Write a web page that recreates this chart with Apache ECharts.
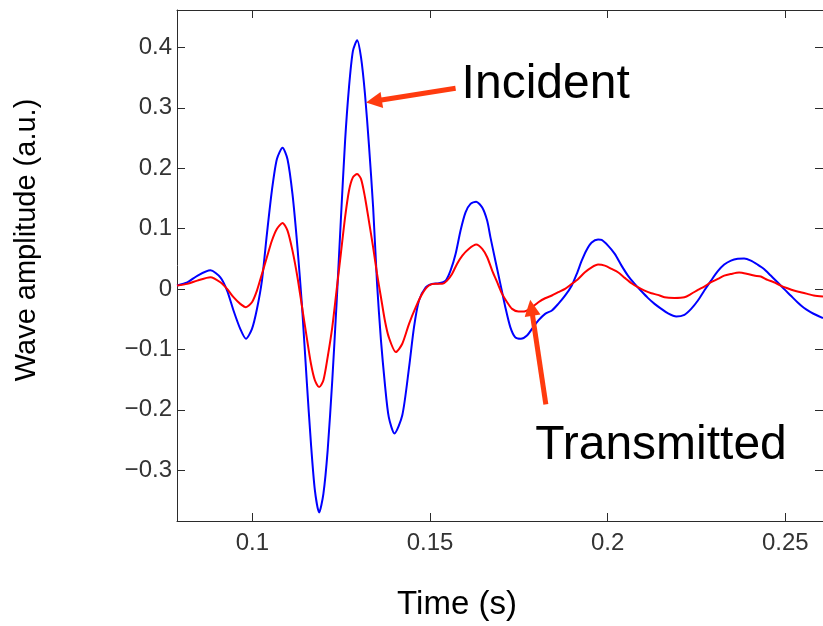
<!DOCTYPE html>
<html>
<head>
<meta charset="utf-8">
<title>Wave amplitude</title>
<script src="https://cdn.jsdelivr.net/npm/echarts@6/dist/echarts.min.js"></script>
<style>
  html, body { margin: 0; padding: 0; background: #fff; }
  #chart { width: 823px; height: 626px; }
</style>
</head>
<body>
<div id="chart"></div>
<script>
// Incident wave (blue): sample times (s) and amplitudes (a.u.)
const incidentTime = [
  0.0788, 0.0817, 0.0845, 0.0882, 0.0910, 0.0929, 0.0947, 0.0966, 0.0982, 0.0999,
  0.1013, 0.1027, 0.1041, 0.1055, 0.1069, 0.1085, 0.1099, 0.1113, 0.1127, 0.1140,
  0.1153, 0.1165, 0.1176, 0.1188, 0.1200, 0.1212, 0.1225, 0.1237, 0.1249, 0.1261,
  0.1272, 0.1283, 0.1295, 0.1306, 0.1317, 0.1328, 0.1340, 0.1351, 0.1362, 0.1373,
  0.1384, 0.1400, 0.1422, 0.1441, 0.1455, 0.1469, 0.1488, 0.1506, 0.1525, 0.1544,
  0.1558, 0.1572, 0.1586, 0.1600, 0.1614, 0.1630, 0.1647, 0.1661, 0.1670, 0.1684,
  0.1698, 0.1712, 0.1726, 0.1740, 0.1756, 0.1773, 0.1787, 0.1805, 0.1824, 0.1843,
  0.1861, 0.1880, 0.1899, 0.1913, 0.1927, 0.1940, 0.1955, 0.1973, 0.1983, 0.2001,
  0.2020, 0.2039, 0.2057, 0.2076, 0.2095, 0.2113, 0.2132, 0.2151, 0.2169, 0.2193,
  0.2216, 0.2235, 0.2254, 0.2272, 0.2291, 0.2310, 0.2328, 0.2347, 0.2366, 0.2384,
  0.2403, 0.2422, 0.2440, 0.2459, 0.2478, 0.2496, 0.2515, 0.2534, 0.2552, 0.2571,
  0.2590, 0.2606
];
const incidentAmp = [
  0.006, 0.011, 0.022, 0.031, 0.0195, -0.0025, -0.0355, -0.066, -0.0824, -0.066,
  -0.033, 0.014, 0.091, 0.163, 0.215, 0.234, 0.215, 0.157, 0.069, -0.030,
  -0.151, -0.256, -0.333, -0.370, -0.339, -0.267, -0.151, -0.0245, 0.113, 0.245,
  0.334, 0.394, 0.412, 0.383, 0.323, 0.240, 0.135, 0.009, -0.085, -0.157,
  -0.212, -0.239, -0.209, -0.130, -0.063, -0.019, 0.003, 0.0086, 0.0096, 0.014,
  0.031, 0.058, 0.097, 0.127, 0.141, 0.1446, 0.135, 0.113, 0.086, 0.047,
  0.0086, -0.030, -0.063, -0.080, -0.0824, -0.077, -0.066, -0.052, -0.041, -0.0355,
  -0.0245, -0.011, 0.006, 0.025, 0.047, 0.064, 0.077, 0.082, 0.0813, 0.0719,
  0.0582, 0.0388, 0.0223, 0.0086, -0.0036, -0.0146, -0.0245, -0.0328, -0.040, -0.0455,
  -0.0427, -0.0328, -0.019, -0.0025, 0.014, 0.0295, 0.0405, 0.047, 0.050, 0.0504,
  0.047, 0.0405, 0.0333, 0.0223, 0.0113, 0.0003, -0.0107, -0.0218, -0.031, -0.038,
  -0.0438, -0.048
];

// Transmitted wave (red): sample times (s) and amplitudes (a.u.)
const transmittedTime = [
  0.0788, 0.0817, 0.0845, 0.0882, 0.0910, 0.0929, 0.0947, 0.0966, 0.0982, 0.0999,
  0.1013, 0.1027, 0.1041, 0.1055, 0.1069, 0.1085, 0.1099, 0.1113, 0.1127, 0.1140,
  0.1153, 0.1165, 0.1176, 0.1188, 0.1200, 0.1212, 0.1225, 0.1237, 0.1249, 0.1261,
  0.1272, 0.1283, 0.1295, 0.1306, 0.1317, 0.1328, 0.1340, 0.1351, 0.1362, 0.1373,
  0.1384, 0.1404, 0.1422, 0.1441, 0.1460, 0.1478, 0.1497, 0.1516, 0.1534, 0.1548,
  0.1562, 0.1576, 0.1591, 0.1609, 0.1630, 0.1647, 0.1661, 0.1675, 0.1689, 0.1703,
  0.1717, 0.1731, 0.1749, 0.1768, 0.1787, 0.1805, 0.1824, 0.1843, 0.1861, 0.1880,
  0.1899, 0.1917, 0.1936, 0.1955, 0.1973, 0.1992, 0.2011, 0.2029, 0.2048, 0.2067,
  0.2085, 0.2104, 0.2123, 0.2141, 0.2160, 0.2188, 0.2216, 0.2235, 0.2254, 0.2272,
  0.2291, 0.2310, 0.2328, 0.2347, 0.2370, 0.2394, 0.2412, 0.2431, 0.2450, 0.2468,
  0.2487, 0.2506, 0.2524, 0.2543, 0.2562, 0.2580, 0.2606
];
const transmittedAmp = [
  0.0058, 0.0086, 0.014, 0.0196, 0.0113, 0.0003, -0.0135, -0.0245, -0.030, -0.0218,
  -0.0025, 0.025, 0.0526, 0.080, 0.0995, 0.1094, 0.0967, 0.0636, 0.0196, -0.030,
  -0.0796, -0.1237, -0.151, -0.1623, -0.151, -0.1127, -0.063, -0.0025, 0.058, 0.1187,
  0.1628, 0.1848, 0.1904, 0.182, 0.152, 0.113, 0.069, 0.025, -0.0135, -0.052,
  -0.0796, -0.1044, -0.0906, -0.0576, -0.030, -0.008, 0.0058, 0.0086, 0.0086, 0.014,
  0.025, 0.0416, 0.0554, 0.0664, 0.0736, 0.0664, 0.0526, 0.0306, 0.0113, -0.008,
  -0.0218, -0.0328, -0.0372, -0.0366, -0.030, -0.0218, -0.0152, -0.0107, -0.0052, 0.0003,
  0.0086, 0.0168, 0.0278, 0.036, 0.0405, 0.0388, 0.0333, 0.0278, 0.0185, 0.0096,
  0.003, -0.0025, -0.0069, -0.0096, -0.0135, -0.0146, -0.0135, -0.008, -0.0014, 0.0041,
  0.0113, 0.0168, 0.0223, 0.025, 0.0273, 0.025, 0.0223, 0.0207, 0.0152, 0.0113,
  0.0058, 0.0013, -0.0025, -0.0052, -0.008, -0.0107, -0.0125
];

// Axis extents
const timeRange = [0.0788, 0.2606];
const ampRange = [-0.384, 0.462];

const FONT = '"Liberation Sans", Arial, Helvetica, sans-serif';
const AXIS_COLOR = '#2b2b2b';
const ARROW_COLOR = '#ff3b0f';

function zip(xs, ys) { return xs.map((x, i) => [x, ys[i]]); }

function ampLabel(v) {
  if (Math.abs(v) < 1e-9) return '0';
  const s = Math.abs(v).toFixed(1);
  return v < 0 ? '\u2212' + s : s;
}

const boxAxisCommon = {
  type: 'value',
  axisLine: { show: true, onZero: false, lineStyle: { color: AXIS_COLOR, width: 1 } },
  axisTick: { show: true, inside: true, length: 8, lineStyle: { color: AXIS_COLOR, width: 1 } },
  splitLine: { show: false }
};

const chart = echarts.init(document.getElementById('chart'), null, { renderer: 'canvas' });

chart.setOption({
  animation: false,
  backgroundColor: '#ffffff',
  grid: { left: 177, top: 10, right: -3, bottom: 105, containLabel: false },
  xAxis: [
    Object.assign({}, boxAxisCommon, {
      position: 'bottom',
      min: timeRange[0], max: timeRange[1], splitNumber: 4,
      axisLabel: {
        show: true, margin: 10, color: '#333', fontFamily: FONT, fontSize: 24,
        showMinLabel: false, showMaxLabel: false
      }
    }),
    Object.assign({}, boxAxisCommon, {
      position: 'top',
      min: timeRange[0], max: timeRange[1], splitNumber: 4,
      axisLabel: { show: false }
    })
  ],
  yAxis: [
    Object.assign({}, boxAxisCommon, {
      position: 'left',
      min: ampRange[0], max: ampRange[1], splitNumber: 8,
      axisLabel: {
        show: true, margin: 5, color: '#333', fontFamily: FONT, fontSize: 24,
        showMinLabel: false, showMaxLabel: false, formatter: ampLabel
      }
    }),
    Object.assign({}, boxAxisCommon, {
      position: 'right',
      min: ampRange[0], max: ampRange[1], splitNumber: 8,
      axisLabel: { show: false }
    })
  ],
  series: [
    {
      name: 'Incident', type: 'line', xAxisIndex: 0, yAxisIndex: 0,
      data: zip(incidentTime, incidentAmp),
      showSymbol: false, smooth: 0.25,
      lineStyle: { color: '#0000ff', width: 2 },
      z: 2
    },
    {
      name: 'Transmitted', type: 'line', xAxisIndex: 0, yAxisIndex: 0,
      data: zip(transmittedTime, transmittedAmp),
      showSymbol: false, smooth: 0.25,
      lineStyle: { color: '#ff0000', width: 2 },
      z: 3
    }
  ]
});

// Annotations, given in data units (time, amplitude)
const annotations = [
  { text: 'Incident', label: [0.1589, 0.338], tail: [0.1572, 0.3326], tip: [0.1320, 0.3088] },
  { text: 'Transmitted', label: [0.1796, -0.260], tail: [0.1826, -0.191], tip: [0.1782, -0.0179] }
];

function toPx(p) {
  return chart.convertToPixel({ xAxisIndex: 0, yAxisIndex: 0 }, p);
}

function arrowElements(tailData, tipData) {
  const a = toPx(tailData), b = toPx(tipData);
  const dx = b[0] - a[0], dy = b[1] - a[1];
  const len = Math.sqrt(dx * dx + dy * dy);
  const ux = dx / len, uy = dy / len;
  const headLen = 16, headHalf = 8;
  const base = [b[0] - ux * headLen, b[1] - uy * headLen];
  const nx = -uy, ny = ux;
  return [
    {
      type: 'line',
      shape: { x1: a[0], y1: a[1], x2: base[0] + ux * 2, y2: base[1] + uy * 2 },
      style: { stroke: ARROW_COLOR, lineWidth: 5 },
      z: 10
    },
    {
      type: 'polygon',
      shape: { points: [
        [b[0], b[1]],
        [base[0] + nx * headHalf, base[1] + ny * headHalf],
        [base[0] - nx * headHalf, base[1] - ny * headHalf]
      ] },
      style: { fill: ARROW_COLOR },
      z: 10
    }
  ];
}

const graphics = [];
annotations.forEach(function (an) {
  arrowElements(an.tail, an.tip).forEach(function (el) { graphics.push(el); });
  const p = toPx(an.label);
  graphics.push({
    type: 'text', z: 11,
    style: {
      text: an.text, x: p[0], y: p[1],
      font: '48px ' + FONT, fill: '#000',
      textAlign: 'left', textVerticalAlign: 'middle'
    }
  });
});

// Axis titles
graphics.push({
  type: 'text', z: 11,
  x: 27, y: 240, rotation: Math.PI / 2,
  style: {
    text: 'Wave amplitude (a.u.)', x: 0, y: 0,
    font: '29px ' + FONT, fill: '#000',
    textAlign: 'center', textVerticalAlign: 'middle'
  }
});
graphics.push({
  type: 'text', z: 11,
  style: {
    text: 'Time (s)', x: 457, y: 605,
    font: '33px ' + FONT, fill: '#000',
    textAlign: 'center', textVerticalAlign: 'middle'
  }
});

chart.setOption({ graphic: { elements: graphics } });
</script>
</body>
</html>
